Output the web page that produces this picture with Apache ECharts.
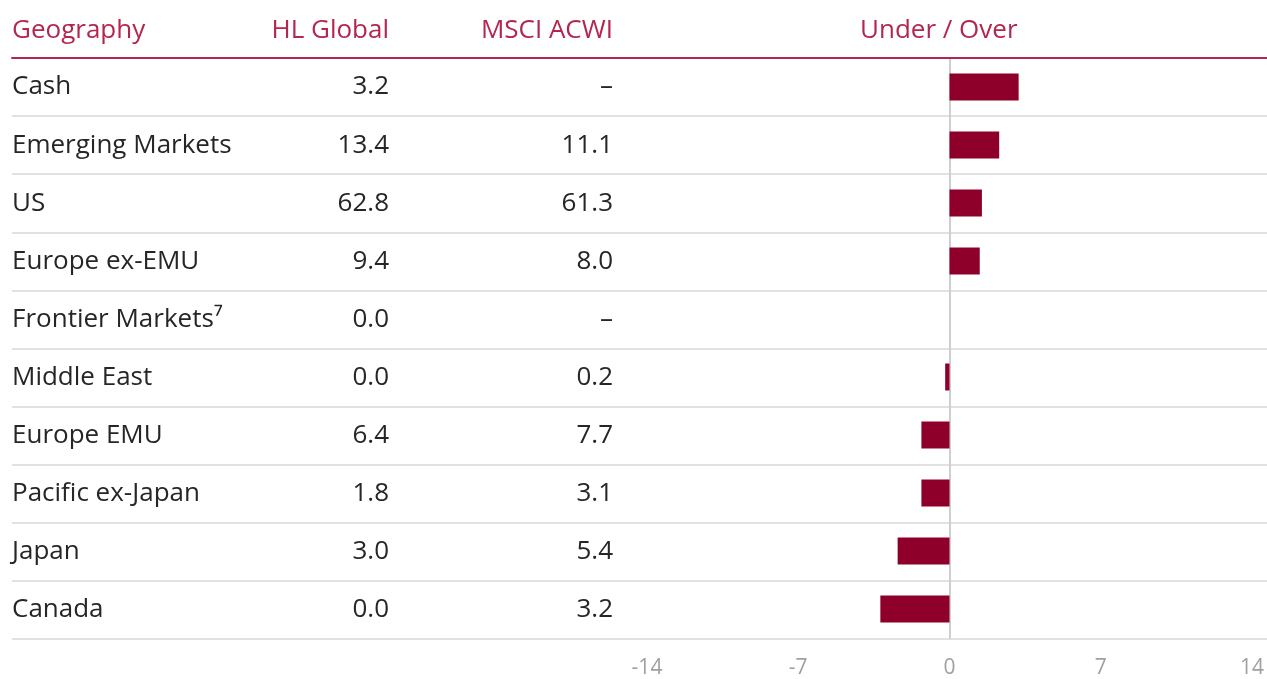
<!DOCTYPE html>
<html>
<head>
<meta charset="utf-8">
<script src="https://cdn.jsdelivr.net/npm/echarts@6/dist/echarts.min.js"></script>
<style>
  html, body { margin: 0; padding: 0; background: #fff; }
  #main { width: 1267px; height: 679px; }
</style>
</head>
<body>
<div id="main"></div>
<script>
// table rows, top to bottom
const geography = ['Cash', 'Emerging Markets', 'US', 'Europe ex-EMU', 'Frontier Markets⁷', 'Middle East', 'Europe EMU', 'Pacific ex-Japan', 'Japan', 'Canada']
const hlGlobal = [3.2, 13.4, 62.8, 9.4, 0.0, 0.0, 6.4, 1.8, 3.0, 0.0]
const msciAcwi = [null, 11.1, 61.3, 8.0, null, 0.2, 7.7, 3.1, 5.4, 3.2]
const underOver = [3.2, 2.3, 1.5, 1.4, 0, -0.2, -1.3, -1.3, -2.4, -3.2]
const xTicks = [-14, -7, 0, 7, 14]

const RED = '#b3264f'
const BAR = '#8e0029'
const TEXT = '#262626'
const FONT = '"Open Sans", sans-serif'

const fmt = v => (v === null ? '–' : v.toFixed(1))

const chart = echarts.init(document.getElementById('main'))

const headerStyle = {
  color: RED,
  fontSize: 26,
  fontWeight: 'normal',
  fontFamily: FONT
}

// row text, nudged a little lower in its row
const cellLabel = {
  margin: 0,
  color: TEXT,
  fontSize: 26,
  fontFamily: FONT,
  padding: [4, 0, 0, 0]
}

const option = {
  animation: false,
  backgroundColor: '#fff',
  title: [
    { text: 'Geography', left: 12, top: 18, padding: 0, textStyle: headerStyle },
    { text: 'HL Global', right: 878, top: 18, padding: 0, textStyle: headerStyle },
    { text: 'MSCI ACWI', right: 654, top: 18, padding: 0, textStyle: headerStyle },
    { text: 'Under / Over', left: 860, top: 18, padding: 0, textStyle: headerStyle }
  ],
  grid: [
    // table area (row lines + text columns)
    { left: 12, right: 0, top: 58, bottom: 40 },
    // bar area
    { left: 647, right: 15, top: 58, bottom: 40 }
  ],
  xAxis: [
    {
      gridIndex: 0,
      type: 'value',
      position: 'top',
      min: 0,
      max: 1,
      axisLine: { show: true, onZero: false, lineStyle: { color: RED, width: 2 } },
      axisTick: { show: false },
      axisLabel: { show: false },
      splitLine: { show: false }
    },
    {
      gridIndex: 1,
      type: 'value',
      min: xTicks[0],
      max: xTicks[xTicks.length - 1],
      interval: 7,
      axisLine: { show: false },
      axisTick: { show: false },
      splitLine: { show: false },
      axisLabel: {
        color: '#a0a0a0',
        fontSize: 21,
        fontFamily: FONT,
        margin: 20
      }
    }
  ],
  yAxis: [
    {
      // geography names, left aligned
      gridIndex: 0,
      type: 'category',
      inverse: true,
      data: geography,
      axisLine: { show: false },
      axisTick: { show: false },
      splitLine: { show: true, lineStyle: { color: '#e1e1e1', width: 2 } },
      axisLabel: { ...cellLabel, inside: true }
    },
    {
      gridIndex: 0,
      type: 'category',
      inverse: true,
      position: 'left',
      offset: -377,
      data: hlGlobal.map(fmt),
      axisLine: { show: false },
      axisTick: { show: false },
      axisLabel: cellLabel
    },
    {
      gridIndex: 0,
      type: 'category',
      inverse: true,
      position: 'left',
      offset: -601,
      data: msciAcwi.map(fmt),
      axisLine: { show: false },
      axisTick: { show: false },
      axisLabel: cellLabel
    },
    {
      gridIndex: 1,
      type: 'category',
      inverse: true,
      data: geography,
      axisLine: { show: true, onZero: true, lineStyle: { color: '#cfcfcf', width: 2 } },
      axisTick: { show: false },
      axisLabel: { show: false },
      splitLine: { show: false }
    }
  ],
  series: [
    {
      type: 'bar',
      xAxisIndex: 1,
      yAxisIndex: 3,
      data: underOver,
      barWidth: 27,
      itemStyle: { color: BAR },
      z: 3
    }
  ]
}

chart.setOption(option)
</script>
</body>
</html>
